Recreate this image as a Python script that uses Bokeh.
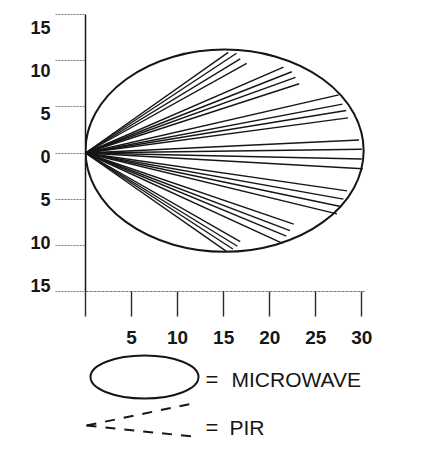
from bokeh.plotting import figure
from bokeh.models import Range1d, LinearAxis, FixedTicker
from bokeh.layouts import column
from bokeh.embed import file_html
from bokeh.resources import INLINE
from bokeh.core.properties import value

# ---------------- data ----------------
y_ticks = [-15, -10, -5, 0, 5, 10, 15]
y_tick_labels = ["15", "10", "5", "0", "5", "10", "15"]
x_ticks = [0, 5, 10, 15, 20, 25, 30]
x_tick_labels = ["", "5", "10", "15", "20", "25", "30"]

# microwave detection pattern extents (feet)
mw_near = 0.0
mw_far = 30.2
mw_bottom = -10.7
mw_top = 11.2

# PIR beam end points (beams start at the sensor, 0,0)
pir_origin_x = 0.0
pir_origin_y = 0.0
pir_end_x = [15.5, 16.4, 16.8, 17.5,
             21.5, 22.4, 22.8, 23.2,
             27.5, 27.9, 28.3, 28.5,
             29.7, 30.0, 30.0, 30.1,
             28.4, 28.0, 27.7, 27.3,
             22.6, 22.2, 21.8, 21.4,
             16.8, 16.5, 16.0, 15.3]
pir_end_y = [10.9, 10.8, 10.2, 9.7,
             9.3, 8.8, 8.2, 7.5,
             6.3, 5.3, 4.6, 3.8,
             1.4, 0.4, -0.65, -1.7,
             -4.1, -5.0, -5.8, -6.6,
             -7.7, -8.4, -9.0, -9.8,
             -9.6, -10.1, -10.4, -10.65]

legend_labels = ["MICROWAVE", "PIR"]

INK = "#161616"
BOLD_FONT = "Liberation Sans"
LEG_FONT = "Liberation Sans"

BORDER_L, BORDER_R = 85, 76

# ---------------- main chart ----------------
p = figure(width=441, height=350,
           x_range=Range1d(0, 30.4), y_range=Range1d(-15, 15),
           output_backend="svg", toolbar_location=None,
           min_border_left=BORDER_L, min_border_right=BORDER_R,
           min_border_top=14, min_border_bottom=59)
p.grid.visible = False
p.outline_line_color = None
p.background_fill_color = "white"

# x axis
xa = p.xaxis[0]
xa.ticker = FixedTicker(ticks=x_ticks)
xa.major_label_overrides = {t: l for t, l in zip(x_ticks, x_tick_labels)}
xa.axis_line_color = "#7a7a7a"
xa.axis_line_width = 1.2
xa.axis_line_dash = "3 1"
xa.major_tick_out = 25
xa.major_tick_in = 0
xa.major_tick_line_color = "#2a2a2a"
xa.major_tick_line_width = 1.4
xa.minor_tick_line_color = None
xa.major_label_text_font = BOLD_FONT
xa.major_label_text_font_style = "bold"
xa.major_label_text_font_size = "19px"
xa.major_label_text_color = INK
xa.major_label_standoff = 14

# y axis: ticks and line
ya = p.yaxis[0]
ya.ticker = FixedTicker(ticks=y_ticks)
ya.major_label_overrides = {t: "" for t in y_ticks}
ya.major_label_standoff = 0
ya.axis_line_color = INK
ya.axis_line_width = 1.5
ya.major_tick_out = 30
ya.major_tick_in = 0
ya.major_tick_line_color = "#7a7a7a"
ya.major_tick_line_dash = "2 1"
ya.major_tick_line_width = 1
ya.minor_tick_line_color = None

# y axis tick labels (as printed, slightly compressed relative to the ticks)
p.extra_y_ranges = {"labels": Range1d(-15.7, 16.5)}
yl = LinearAxis(y_range_name="labels", ticker=FixedTicker(ticks=y_ticks),
                major_label_overrides={t: l for t, l in zip(y_ticks, y_tick_labels)},
                axis_line_color=None, major_tick_line_color=None,
                minor_tick_line_color=None, major_tick_out=0, major_tick_in=0,
                major_label_standoff=5,
                major_label_text_font=BOLD_FONT,
                major_label_text_font_style="bold",
                major_label_text_font_size="18px",
                major_label_text_color=INK)
p.add_layout(yl, "left")

# microwave pattern
p.ellipse(x=[(mw_near + mw_far) / 2], y=[(mw_top + mw_bottom) / 2],
          width=[mw_far - mw_near], height=[mw_top - mw_bottom],
          fill_color=None, line_color=INK, line_width=2)

# PIR beams
n = len(pir_end_x)
p.segment(x0=[pir_origin_x] * n, y0=[pir_origin_y] * n,
          x1=pir_end_x, y1=pir_end_y,
          line_color=INK, line_width=1.4)

# ---------------- legend (pixel coordinates, frame aligned with chart) ----------------
lg = figure(width=441, height=95,
            x_range=Range1d(BORDER_L, 441 - BORDER_R), y_range=Range1d(95, 0),
            output_backend="svg", toolbar_location=None,
            x_axis_type=None, y_axis_type=None,
            min_border_left=BORDER_L, min_border_right=BORDER_R,
            min_border_top=0, min_border_bottom=0)
lg.grid.visible = False
lg.outline_line_color = None

lg.ellipse(x=[144], y=[26.5], width=[108], height=[43],
           fill_color=None, line_color=INK, line_width=2)
lg.segment(x0=[86, 86], y0=[75, 75], x1=[192, 192], y1=[53, 86],
           line_color=INK, line_width=2, line_dash="10 9")
lg.text(x=[205, 205], y=[28.5, 77], text=["=", "="],
        text_font=value(LEG_FONT), text_font_size="22px",
        text_baseline="middle", text_align="left", text_color=INK)
lg.text(x=[231, 229], y=[28.5, 77], text=legend_labels,
        text_font=value(LEG_FONT), text_font_size="21px",
        text_baseline="middle", text_align="left", text_color=INK)

layout = column(p, lg, spacing=0)
open("out.html", "w").write(file_html(layout, INLINE))
